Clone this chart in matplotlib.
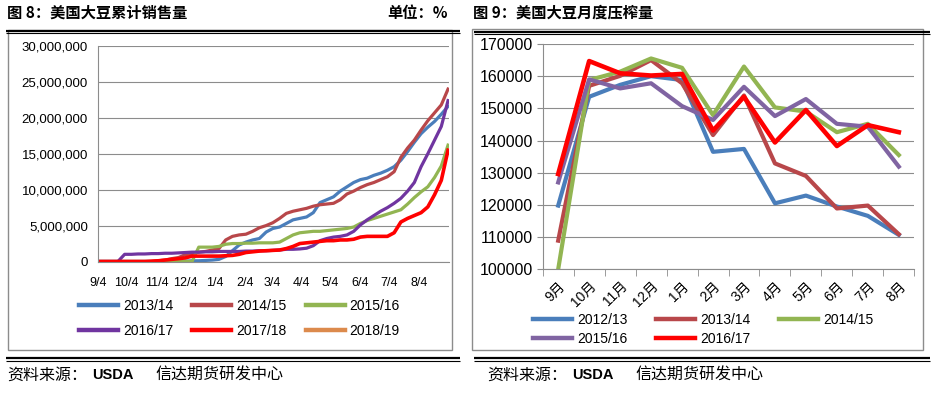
import numpy as np
import matplotlib
matplotlib.use('Agg')
import matplotlib.pyplot as plt
from matplotlib import font_manager as fm
from matplotlib.lines import Line2D
from matplotlib.patches import Rectangle
from matplotlib.ticker import FuncFormatter, FixedLocator

# fonts: narrow latin face if present, CJK fallback
installed = {f.name for f in fm.fontManager.ttflist}
latin = 'Liberation Sans Narrow' if 'Liberation Sans Narrow' in installed else 'Liberation Sans'
plt.rcParams['font.family'] = [latin, 'Noto Sans CJK SC', 'DejaVu Sans']
plt.rcParams['axes.unicode_minus'] = False

# ---- figure 8: cumulative US soybean sales (million, weekly from 9/4) ----
week_idx = np.arange(53)
sales_1314 = [0, 0, 0, 0, 0, 0, 0, 0, 0, 0, 0, 0, 0,
              0.05, 0.1, 0.1, 0.15, 0.2, 0.3, 0.7, 1.5, 2.3, 2.7, 3.0, 3.2, 4.1, 4.6, 4.8,
              5.3, 5.8, 6.0, 6.2, 6.8, 8.2, 8.6, 9.0, 9.8, 10.4, 11.0, 11.4, 11.6, 12.0,
              12.3, 12.7, 13.2, 14.1, 15.3, 16.6, 17.8, 18.7, 19.5, 20.5, 21.6]
sales_1415 = [0, 0, 0, 0, 0, 0, 0, 0, 0,
              0.1, 0.2, 0.4, 0.55, 0.95, 1.1, 1.3, 1.4, 1.6, 1.8, 3.0, 3.5, 3.7, 3.8, 4.2,
              4.7, 5.0, 5.4, 6.0, 6.7, 7.0, 7.2, 7.4, 7.7, 7.9, 8.0, 8.1, 8.6, 9.4, 9.8,
              10.3, 10.7, 11.0, 11.4, 11.8, 12.5, 14.5, 15.8, 16.9, 18.3, 19.6, 20.7, 21.8, 24.0]
sales_1516 = [0, 0, 0, 0, 0, 0, 0, 0, 0, 0, 0, 0, 0, 0, 0,
              2.0, 2.0, 2.0, 2.1, 2.4, 2.5, 2.5, 2.55, 2.55, 2.6, 2.6, 2.6, 2.7, 3.2, 3.7,
              4.0, 4.1, 4.2, 4.2, 4.3, 4.4, 4.5, 4.6, 4.8, 5.3, 5.7, 6.0, 6.3, 6.6, 6.9,
              7.2, 8.0, 8.9, 9.7, 10.4, 11.7, 13.3, 16.2]
sales_1617 = [0, 0, 0, 0, 1.0, 1.0, 1.05, 1.05, 1.1, 1.1, 1.15, 1.15, 1.2, 1.25, 1.3, 1.3,
              1.35, 1.35, 1.4, 1.4, 1.4, 1.4, 1.45, 1.45, 1.5, 1.5, 1.55, 1.6, 1.7, 1.7,
              1.75, 1.85, 2.2, 2.9, 3.2, 3.4, 3.5, 3.7, 4.2, 5.1, 5.8, 6.4, 7.0, 7.5, 8.1,
              8.8, 9.8, 11.0, 13.2, 15.0, 16.9, 18.8, 22.4]
sales_1718 = [0, 0, 0, 0, 0, 0, 0, 0,
              0.05, 0.1, 0.2, 0.3, 0.4, 0.5, 0.75, 0.75, 0.75, 0.75, 0.75, 0.8, 0.85, 1.0,
              1.25, 1.35, 1.45, 1.5, 1.55, 1.6, 1.8, 2.1, 2.5, 2.6, 2.7, 2.8, 2.9, 2.9,
              3.0, 3.0, 3.1, 3.4, 3.5, 3.5, 3.5, 3.5, 4.0, 5.5, 6.0, 6.4, 6.8, 7.6, 9.3,
              11.3, 15.5]
sales_1819 = []
date_labels = ['9/4', '10/4', '11/4', '12/4', '1/4', '2/4', '3/4', '4/4', '5/4', '6/4', '7/4', '8/4']
date_offsets = [0, 30, 61, 91, 122, 153, 181, 212, 242, 273, 303, 334]

# ---- figure 9: monthly US soybean crush ----
months = ['9月', '10月', '11月', '12月', '1月', '2月', '3月', '4月', '5月', '6月', '7月', '8月']
crush_1213 = [119800, 153600, 157300, 160000, 158800, 136500, 137400, 120500, 122900, 119500, 116600, 110700]
crush_1314 = [108900, 157000, 160100, 165000, 157800, 141700, 154000, 132900, 129000, 118900, 119800, 110900]
crush_1415 = [100000, 158800, 161400, 165500, 162600, 147900, 163000, 150300, 149000, 142600, 145200, 135500]
crush_1516 = [127000, 159000, 156200, 157800, 150700, 146400, 156700, 147600, 152900, 145200, 144300, 131900]
crush_1617 = [129600, 164700, 160900, 160200, 160700, 143100, 153600, 139400, 149500, 138300, 144800, 142600]

BLUE, BROWN, GREEN = '#4A7EBB', '#B8474A', '#92B552'
PURPLE, RED, ORANGE = '#7035A0', '#FF0000', '#DC8A4C'
PURPLE2 = '#8064A2'
GRID = '#8C8C8C'

W, H = 935, 397
fig = plt.figure(figsize=(W / 100, H / 100), dpi=100)


def fx(px):
    return px / W


def fy(py):
    return 1 - py / H


def hline(x0, x1, y, lw, color='black'):
    fig.add_artist(Line2D([fx(x0), fx(x1)], [fy(y), fy(y)], transform=fig.transFigure,
                          color=color, lw=lw, solid_capstyle='butt'))


# panel frames and rules
for x0, y0, x1, y1 in [(8, 30, 452, 350), (471.5, 29, 923, 350)]:
    fig.add_artist(Rectangle((fx(x0), fy(y1)), fx(x1 - x0), (y1 - y0) / H,
                             transform=fig.transFigure, fill=False, ec='#8C8C8C', lw=1))
hline(6, 460, 30.5, 1.6)
hline(6, 460, 33, 0.8)
hline(474, 930, 31.5, 1.6)
hline(474, 930, 34, 0.8)
hline(6, 460, 358, 1.6)
hline(6, 460, 361, 0.8)
hline(474, 930, 358, 1.6)
hline(474, 930, 361, 0.8)

cjk = ['Noto Sans CJK SC', 'DejaVu Sans']
fig.text(fx(7), fy(13), '图 8：美国大豆累计销售量', family=cjk, weight='bold', fontsize=11, va='center')
fig.text(fx(448), fy(13), '单位：%', family=cjk, weight='bold', fontsize=11, va='center', ha='right')
fig.text(fx(473), fy(13), '图 9：美国大豆月度压榨量', family=cjk, weight='bold', fontsize=11, va='center')
for x0 in (7, 487):
    fig.text(fx(x0), fy(375), '资料来源：', family=cjk, fontsize=11.5, va='center')
    fig.text(fx(x0 + 85), fy(375), 'USDA', family=[latin] + cjk, weight='bold', fontsize=10.5, va='center')
    fig.text(fx(x0 + 148), fy(375), '信达期货研发中心', family=cjk, fontsize=11.5, va='center')

# ---- left chart ----
ax1 = fig.add_axes([fx(97.7), fy(261.5), fx(449 - 97.7), (261.5 - 46) / H])
days = week_idx * 7
series1 = [('2013/14', sales_1314, BLUE), ('2014/15', sales_1415, BROWN),
           ('2015/16', sales_1516, GREEN), ('2016/17', sales_1617, PURPLE),
           ('2017/18', sales_1718, RED), ('2018/19', sales_1819, ORANGE)]
handles1 = {}
for name, vals, col in series1:
    lw = 2.6 if col == RED else 2.3
    if len(vals):
        ln, = ax1.plot(days, vals, color=col, lw=lw, solid_joinstyle='round')
    else:
        ln, = ax1.plot([], [], color=col, lw=lw)
    handles1[name] = ln
ax1.set_xlim(0, 365)
ax1.set_ylim(0, 30)
ax1.yaxis.set_major_locator(FixedLocator(np.arange(0, 31, 5)))
ax1.yaxis.set_major_formatter(FuncFormatter(lambda v, p: f'{int(round(v * 1e6)):,}'))
ax1.set_xticks(date_offsets, date_labels)
ax1.grid(axis='y', color=GRID, lw=0.8)
ax1.set_axisbelow(True)
for s in ('top', 'right'):
    ax1.spines[s].set_visible(False)
for s in ('left', 'bottom'):
    ax1.spines[s].set_color(GRID)
    ax1.spines[s].set_linewidth(0.8)
ax1.tick_params(axis='y', length=0, pad=7, labelsize=9.5)
ax1.tick_params(axis='x', length=0, pad=11, labelsize=9)

order1 = ['2013/14', '2016/17', '2014/15', '2017/18', '2015/16', '2018/19']
leg1 = fig.legend([handles1[k] for k in order1], order1, ncol=3, frameon=False,
                  loc='upper left', bbox_to_anchor=(fx(79), fy(299)), fontsize=10,
                  handlelength=2.8, handletextpad=0.35, columnspacing=1.4,
                  labelspacing=0.8, borderpad=0, borderaxespad=0)
for ln in leg1.get_lines():
    ln.set_linewidth(3.2)

# ---- right chart ----
ax2 = fig.add_axes([fx(542.7), fy(269.3), fx(914.3 - 542.7), (269.3 - 44) / H])
pos = np.arange(len(months))
series2 = [('2012/13', crush_1213, BLUE), ('2013/14', crush_1314, BROWN),
           ('2014/15', crush_1415, GREEN), ('2015/16', crush_1516, PURPLE2),
           ('2016/17', crush_1617, RED)]
handles2 = {}
for name, vals, col in series2:
    lw = 3.3 if col == RED else 3.0
    ln, = ax2.plot(pos, vals, color=col, lw=lw, solid_joinstyle='round')
    handles2[name] = ln
ax2.set_xlim(-0.5, 11.5)
ax2.set_ylim(100000, 170000)
ax2.set_yticks(np.arange(100000, 170001, 10000))
ax2.set_xticks(pos, months, rotation=45, ha='right', rotation_mode='anchor')
ax2.set_xticks(np.arange(-0.5, 12, 1), minor=True)
ax2.grid(axis='y', color=GRID, lw=0.8)
ax2.set_axisbelow(True)
for s in ('top', 'right'):
    ax2.spines[s].set_visible(False)
for s in ('left', 'bottom'):
    ax2.spines[s].set_color(GRID)
    ax2.spines[s].set_linewidth(0.8)
ax2.tick_params(axis='y', length=4, color=GRID, pad=3, labelsize=11.5)
ax2.tick_params(axis='x', which='major', length=0, pad=7, labelsize=10)
ax2.tick_params(axis='x', which='minor', length=5, color=GRID)

order2 = ['2012/13', '2015/16', '2013/14', '2016/17', '2014/15']
leg2 = fig.legend([handles2[k] for k in order2], order2, ncol=3, frameon=False,
                  loc='upper left', bbox_to_anchor=(fx(533), fy(313)), fontsize=10,
                  handlelength=2.8, handletextpad=0.35, columnspacing=2.1,
                  labelspacing=0.35, borderpad=0, borderaxespad=0)
for ln in leg2.get_lines():
    ln.set_linewidth(3.2)

fig.savefig('out.png', dpi=100)
